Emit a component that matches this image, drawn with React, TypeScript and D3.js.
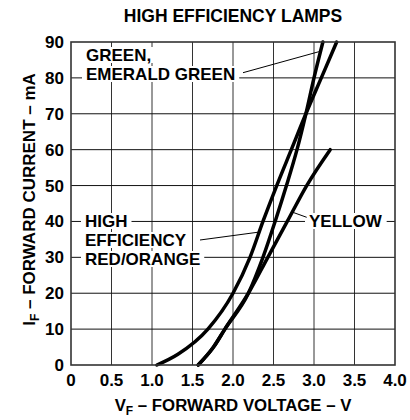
import { useLayoutEffect, useRef, useState } from "react";
import * as d3 from "d3";

const WIDTH = 410;
const HEIGHT = 420;
const MARGIN = { top: 42, right: 15, bottom: 55, left: 71 };
const FONT = "'Liberation Sans', Arial, Helvetica, sans-serif";

const voltageTicks = [0, 0.5, 1.0, 1.5, 2.0, 2.5, 3.0, 3.5, 4.0];
const currentTicks = [0, 10, 20, 30, 40, 50, 60, 70, 80, 90];

// forward current (mA) vs forward voltage (V)
const redCurrent = [0, 3, 10, 20, 30, 40, 50, 60, 70, 80, 90];
const redVoltage = [1.06, 1.32, 1.69, 2.0, 2.21, 2.37, 2.54, 2.72, 2.9, 3.09, 3.28];

const greenCurrent = [0, 5, 10, 20, 30, 40, 50, 60, 70, 80, 90];
const greenVoltage = [1.57, 1.76, 1.9, 2.19, 2.37, 2.52, 2.66, 2.79, 2.9, 3.0, 3.11];

const yellowCurrent = [0, 5, 10, 20, 30, 40, 50, 60];
const yellowVoltage = [1.57, 1.76, 1.9, 2.19, 2.43, 2.67, 2.91, 3.2];

// where the label leaders touch the curves (V, mA)
const greenPointer = [3.06, 87.3];
const redPointer = [2.31, 37];
const yellowPointer = [2.72, 42.7];

const toPoints = (v: number[], i: number[]) => v.map((d, k) => ({ v: d, i: i[k] }));

// text with a white box behind it, so grid lines stop at the label
const BoxText = ({ x, y, text, size = 17 }: { x: number; y: number; text: string; size?: number }) => {
  const ref = useRef<SVGTextElement>(null);
  const [box, setBox] = useState<{ x: number; y: number; w: number; h: number } | null>(null);
  useLayoutEffect(() => {
    if (ref.current) {
      const b = ref.current.getBBox();
      setBox({ x: b.x, y: b.y, w: b.width, h: b.height });
    }
  }, [text, x, y]);
  return (
    <g>
      {box && (
        <rect x={box.x - 4} y={box.y + 1} width={box.w + 8} height={box.h - 3} fill="#fff" />
      )}
      <text ref={ref} x={x} y={y} fontSize={size} fontWeight="bold" fontFamily={FONT} fill="#000">
        {text}
      </text>
    </g>
  );
};

export default function App() {
  const x = d3.scaleLinear().domain([0, 4]).range([MARGIN.left, WIDTH - MARGIN.right]);
  const y = d3.scaleLinear().domain([0, 90]).range([HEIGHT - MARGIN.bottom, MARGIN.top]);

  const line = d3
    .line<{ v: number; i: number }>()
    .x((d) => x(d.v))
    .y((d) => y(d.i))
    .curve(d3.curveMonotoneX);

  const series = [
    toPoints(redVoltage, redCurrent),
    toPoints(greenVoltage, greenCurrent),
    toPoints(yellowVoltage, yellowCurrent),
  ];

  const [x0, x1] = x.range();
  const [y0, y1] = y.range();

  return (
    <svg width={WIDTH} height={HEIGHT} style={{ position: "absolute", left: 0, top: 0 }}>
      <rect width={WIDTH} height={HEIGHT} fill="#fff" />

      {/* grid */}
      {voltageTicks.slice(1, -1).map((t) => (
        <line key={"v" + t} x1={x(t)} x2={x(t)} y1={y0} y2={y1} stroke="#333" strokeWidth={1} />
      ))}
      {currentTicks.slice(1, -1).map((t) => (
        <line key={"c" + t} x1={x0} x2={x1} y1={y(t)} y2={y(t)} stroke="#111" strokeWidth={1} />
      ))}

      {/* labels + leaders */}
      <BoxText x={86} y={61} text="GREEN," />
      <BoxText x={86} y={80} text="EMERALD GREEN" />
      <BoxText x={85} y={227} text="HIGH" />
      <BoxText x={85} y={246} text="EFFICIENCY" />
      <BoxText x={85} y={265} text="RED/ORANGE" />
      <BoxText x={309} y={227} text="YELLOW" />

      <line x1={243} y1={72.7} x2={x(greenPointer[0])} y2={y(greenPointer[1])} stroke="#000" strokeWidth={1} />
      <line x1={200} y1={240} x2={x(redPointer[0])} y2={y(redPointer[1])} stroke="#000" strokeWidth={1} />
      <line x1={306.7} y1={217.3} x2={x(yellowPointer[0])} y2={y(yellowPointer[1])} stroke="#000" strokeWidth={1} />

      {/* curves */}
      {series.map((s, k) => (
        <path key={k} d={line(s) || ""} fill="none" stroke="#000" strokeWidth={3.5} strokeLinecap="round" />
      ))}

      {/* frame */}
      <rect x={x0} y={y1} width={x1 - x0} height={y0 - y1} fill="none" stroke="#333" strokeWidth={1.6} />

      {/* tick labels */}
      {voltageTicks.map((t) => (
        <text key={"xl" + t} x={x(t)} y={y0 + 21} textAnchor="middle" fontSize={17} fontWeight="bold" fontFamily={FONT}>
          {t === 0 ? "0" : t.toFixed(1)}
        </text>
      ))}
      {currentTicks.map((t) => (
        <text key={"yl" + t} x={64} y={y(t) + 6} textAnchor="end" fontSize={17} fontWeight="bold" fontFamily={FONT}>
          {t}
        </text>
      ))}

      {/* title and axis titles */}
      <text x={(x0 + x1) / 2} y={22} textAnchor="middle" fontSize={17.5} fontWeight="bold" fontFamily={FONT}>
        HIGH EFFICIENCY LAMPS
      </text>
      <text x={(x0 + x1) / 2} y={411} textAnchor="middle" fontSize={16.8} fontWeight="bold" fontFamily={FONT}>
        V<tspan fontSize={12} dy={4}>F</tspan>
        <tspan dy={-4}> – FORWARD VOLTAGE – V</tspan>
      </text>
      <text
        transform={`translate(35, ${(y0 + y1) / 2 - 4}) rotate(-90)`}
        textAnchor="middle"
        fontSize={17}
        fontWeight="bold"
        fontFamily={FONT}
      >
        I<tspan fontSize={12} dy={4}>F</tspan>
        <tspan dy={-4}> – FORWARD CURRENT – mA</tspan>
      </text>
    </svg>
  );
}
